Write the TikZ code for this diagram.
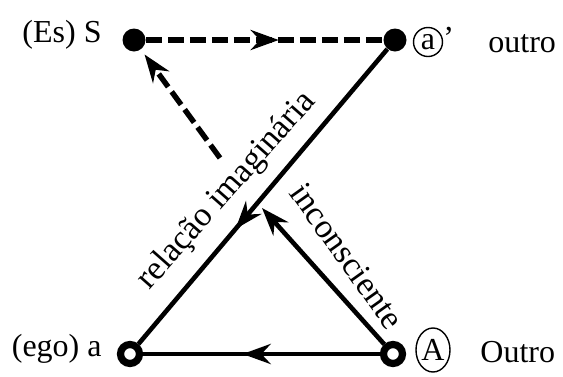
\documentclass[tikz,border=0pt]{standalone}
\usepackage{fontspec}
\setmainfont{Liberation Serif}
\usetikzlibrary{arrows.meta, decorations.markings, shapes.geometric}

\tikzset{
  dotfull/.style={circle, fill=black, inner sep=0pt, minimum size=11.5pt},
  dotopen/.style={circle, draw=black, line width=3.6pt, fill=white, inner sep=0pt, minimum size=9.5pt},
  lbl/.style={inner sep=0pt, font=\fontsize{16}{19}\selectfont},
  rotlbl/.style={inner sep=0pt, font=\fontsize{17}{20}\selectfont},
  ring/.style={draw, line width=0.7pt, inner sep=0pt},
  link/.style={line width=2.3pt},
  dashlink/.style={line width=2.7pt, dash pattern=on 8pt off 3pt},
  tip/.style={-{Stealth[length=14pt, width=10pt]}},
  midtip/.style={postaction={decorate}, decoration={markings,
      mark=at position #1 with {\arrow{Stealth[length=14pt, width=10pt]}}}},
}

\begin{document}
\begin{tikzpicture}[x=0.5pt, y=-0.5pt]
        \useasboundingbox (0,0) rectangle (563,376);

        % The four places of the schema
        \node[dotfull] (S) at (134,40) {};
        \node[dotfull] (ap) at (395,40) {};
        \node[dotopen] (a) at (130,354) {};
        \node[dotopen] (A) at (393,354) {};

        % Where the line from A breaks off
        \coordinate (cross) at (262,208);
        \coordinate (dashstart) at (220,158);

        % Connectors
        \draw[dashlink, midtip=0.56] (S) -- (ap);
        \draw[link, midtip=0.61] (ap) -- (a);
        \draw[link, midtip=0.58] (A) -- (a);
        \draw[link, tip] (A) -- (cross);
        \draw[dashlink, tip, shorten >=3pt] (dashstart) -- (S);

        % Names beside the places
        \node[lbl, anchor=base east] (esS) at (102,42) {(Es) S};
        \node[lbl, anchor=base east] (egoa) at (102,356) {(ego) a};
        \node[lbl, ring, circle, minimum size=14.5pt] (ringa) at (428,42) {a};
        \node[lbl, anchor=north west] (ringprime) at (443,27) {’};
        \node[lbl, ring, ellipse, minimum width=17pt, minimum height=22pt] (ringA) at (433,350) {A};
        \node[lbl, anchor=base west] (outro) at (488,52) {outro};
        \node[lbl, anchor=base west] (Outro) at (480,362) {Outro};

        % Labels along the lines
        \node[rotlbl, rotate=48.5] (relacao) at (227,191) {relação imaginária};
        \node[rotlbl, rotate=-54.5] (incons) at (347,256) {inconsciente};
      \end{tikzpicture}
\end{document}
